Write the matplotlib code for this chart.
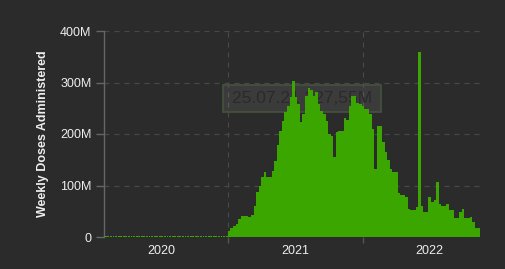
import matplotlib
matplotlib.use("Agg")
import matplotlib.pyplot as plt
import matplotlib.patches as mpatches
import pandas as pd

# ---------------- data ----------------
start_2020 = "2020-02-02"
doses_2020 = [2.5, 2.5, 2.5, 2.5, 2.5, 2.5, 2.5, 2.5, 2.5, 2.5, 2.5, 2.5,
              2.5, 2.5, 2.5, 2.5, 2.5, 2.5, 2.5, 2.5, 2.5, 2.5, 2.5, 2.5,
              2.5, 2.5, 2.5, 2.5, 2.5, 2.5, 2.5, 2.5, 2.5, 2.5, 2.5, 2.5,
              2.5, 2.5, 2.5, 2.5, 2.5, 2.5, 2.5, 2.5, 2.5, 2.5, 2.5, 2.5]
start_2021 = "2021-01-03"
doses_2021_22 = [12, 18, 22, 26, 35, 40, 41, 41, 39, 42,
                 61, 87, 100, 116, 126, 117, 117, 129, 148, 178,
                 205, 226, 242, 255, 271, 302, 271, 258, 223, 239,
                 274, 290, 285, 274, 281, 258, 245, 239, 226, 200,
                 197, 155, 203, 206, 206, 232, 227, 255, 274, 274,
                 261, 258, 255, 248, 248, 239, 210, 132, 216, 216,
                 184, 165, 150, 133, 127, 127, 85, 82, 82, 78,
                 55, 53, 53, 59, 360, 61, 48, 48, 78, 68,
                 72, 107, 65, 61, 61, 65, 52, 52, 36, 36,
                 48, 55, 36, 36, 39, 29, 18, 18]
y_ticks = [0, 100, 200, 300, 400]
y_tick_labels = ["0", "100M", "200M", "300M", "400M"]
x_label_dates = ["2020-07-02", "2021-07-02", "2022-07-02"]
x_labels = ["2020", "2021", "2022"]
x_grid_dates = ["2021-01-01", "2022-01-01"]
tooltip_text = "25.07.21 227,55M"
y_title = "Weekly Doses Administered"

# ---------------- style ----------------
BG = "#2b2b2b"
GREEN = "#3ca600"
GRID = "#484848"
TXT = "#eeeeee"
plt.rcParams["font.family"] = ["Liberation Sans", "DejaVu Sans"]

fig = plt.figure(figsize=(5.06, 2.69), dpi=100, facecolor=BG)
W, H = 506, 269
ax_l, ax_r, ax_t, ax_b = 104, 480, 31, 237
ax = fig.add_axes([ax_l / W, (H - ax_b) / H, (ax_r - ax_l) / W, (ax_b - ax_t) / H])
ax.set_facecolor(BG)

d2020 = pd.date_range(start_2020, periods=len(doses_2020), freq="7D")
d2021 = pd.date_range(start_2021, periods=len(doses_2021_22), freq="7D")

ax.bar(d2020, doses_2020, width=5.0, color=GREEN, linewidth=0, zorder=3)
ax.bar(d2021, doses_2021_22, width=7.0, color=GREEN, linewidth=0, zorder=3)

ax.set_xlim(pd.Timestamp("2020-01-28"), pd.Timestamp("2022-11-17"))
ax.set_ylim(0, 400)

# y axis
ax.set_yticks(y_ticks)
ax.set_yticklabels(y_tick_labels, color=TXT, fontsize=9)
ax.tick_params(axis="y", length=6, color="#666666", width=1, pad=3)
for yv in y_ticks[1:]:
    ax.axhline(yv, color=GRID, lw=0.9, ls=(0, (4, 4)), zorder=1)

# x axis
ax.set_xticks([pd.Timestamp(d) for d in x_grid_dates])
ax.set_xticklabels(["", ""])
ax.set_xticks([pd.Timestamp(d) for d in x_label_dates], minor=True)
ax.set_xticklabels(x_labels, minor=True, color=TXT, fontsize=9)
ax.tick_params(axis="x", which="major", length=4, color="#555555", width=1)
ax.tick_params(axis="x", which="minor", length=0, pad=6)
for d in x_grid_dates:
    ax.axvline(pd.Timestamp(d), color=GRID, lw=0.9, ls=(0, (4, 4)), zorder=1)

for s in ["top", "right", "bottom"]:
    ax.spines[s].set_visible(False)
ax.spines["left"].set_color("#666666")
ax.spines["left"].set_linewidth(1)

ax.set_ylabel(y_title, color=TXT, fontsize=9, fontweight="bold", labelpad=8)

# tooltip-like box (behind bars)
bx0, bx1, by0, by1 = 223, 381, 85, 112
box = mpatches.Rectangle((bx0 / W, (H - by1) / H), (bx1 - bx0) / W, (by1 - by0) / H,
                         transform=fig.transFigure, facecolor="#ffffff", alpha=0.08,
                         edgecolor="none", zorder=2)
ax.add_patch(box)
border = mpatches.Rectangle((bx0 / W, (H - by1) / H), (bx1 - bx0) / W, (by1 - by0) / H,
                            transform=fig.transFigure, facecolor="none",
                            edgecolor="#44523f", lw=1.2, zorder=2)
ax.add_patch(border)
ax.text((bx0 + bx1) / 2 / W, (H - (by0 + by1) / 2) / H, tooltip_text,
        transform=fig.transFigure, ha="center", va="center",
        fontsize=12.5, color="#2a2a2a", zorder=2)

fig.savefig("out.png", dpi=100, facecolor=BG)
